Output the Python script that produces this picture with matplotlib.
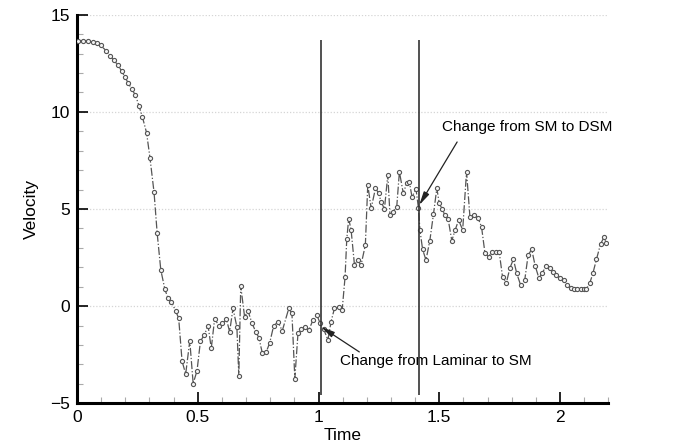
import matplotlib
matplotlib.use("Agg")
import matplotlib.pyplot as plt
from matplotlib.ticker import MultipleLocator

plt.rcParams['font.family'] = ['Liberation Sans', 'DejaVu Sans']

time = [0.005, 0.026, 0.047, 0.065, 0.081, 0.098, 0.12, 0.136, 0.153, 0.171, 0.185, 0.198,
        0.212, 0.227, 0.242, 0.257, 0.271, 0.288, 0.302, 0.319, 0.332, 0.347, 0.364, 0.377,
        0.391, 0.408, 0.421, 0.435, 0.45, 0.467, 0.481, 0.497, 0.511, 0.526, 0.543, 0.556,
        0.57, 0.588, 0.602, 0.619, 0.632, 0.646, 0.662, 0.67, 0.678, 0.694, 0.708, 0.724,
        0.74, 0.753, 0.767, 0.784, 0.798, 0.814, 0.832, 0.85, 0.877, 0.89, 0.902, 0.915,
        0.928, 0.946, 0.96, 0.977, 0.993, 1.007, 1.022, 1.039, 1.052, 1.066, 1.083, 1.098,
        1.11, 1.117, 1.125, 1.135, 1.149, 1.162, 1.176, 1.194, 1.204, 1.218, 1.236, 1.249,
        1.259, 1.273, 1.287, 1.296, 1.31, 1.324, 1.335, 1.351, 1.365, 1.376, 1.387, 1.404,
        1.414, 1.42, 1.431, 1.445, 1.461, 1.476, 1.49, 1.5, 1.512, 1.523, 1.537, 1.552,
        1.566, 1.58, 1.597, 1.613, 1.627, 1.645, 1.661, 1.675, 1.689, 1.704, 1.718, 1.734,
        1.748, 1.762, 1.778, 1.792, 1.807, 1.821, 1.837, 1.854, 1.868, 1.883, 1.897, 1.913,
        1.927, 1.943, 1.957, 1.971, 1.985, 1.999, 2.017, 2.03, 2.044, 2.058, 2.072, 2.085,
        2.099, 2.109, 2.123, 2.136, 2.151, 2.168, 2.182, 2.192]

velocity = [13.66, 13.67, 13.66, 13.6, 13.54, 13.42, 13.16, 12.89, 12.65, 12.39, 12.1, 11.82,
            11.48, 11.17, 10.86, 10.3, 9.73, 8.93, 7.65, 5.86, 3.75, 1.86, 0.86, 0.4,
            0.22, -0.24, -0.62, -2.83, -3.5, -1.79, -3.99, -3.33, -1.82, -1.5, -1.03, -2.18,
            -0.64, -1.03, -0.89, -0.69, -1.32, -0.12, -1.07, -3.6, 1.03, -0.55, -0.24, -0.86,
            -1.32, -1.62, -2.4, -2.35, -1.89, -1.03, -0.81, -1.27, -0.12, -0.38, -3.73, -1.41,
            -1.2, -1.1, -1.24, -0.72, -0.46, -0.89, -1.2, -1.75, -0.8, -0.12, -0.03, -0.2,
            1.5, 3.44, 4.5, 3.92, 2.11, 2.37, 2.11, 3.14, 6.24, 5.03, 6.07, 5.81,
            5.38, 5.0, 6.75, 4.69, 4.86, 5.12, 6.92, 5.81, 6.32, 6.41, 5.63, 6.01,
            5.03, 3.92, 2.92, 2.37, 3.37, 4.73, 6.07, 5.29, 5.0, 4.69, 4.47, 3.37,
            3.92, 4.43, 3.92, 6.92, 4.6, 4.7, 4.52, 4.09, 2.75, 2.54, 2.77, 2.8,
            2.8, 1.51, 1.2, 1.94, 2.41, 1.68, 1.08, 1.34, 2.63, 2.92, 2.08, 1.43,
            1.72, 2.06, 1.94, 1.74, 1.6, 1.46, 1.34, 1.08, 0.94, 0.86, 0.88, 0.88,
            0.88, 0.88, 1.17, 1.68, 2.41, 3.2, 3.54, 3.23]

switch_times = [1.01, 1.417]
xticks = [0, 0.5, 1, 1.5, 2]
xtick_labels = ['0', '0.5', '1', '1.5', '2']
yticks = [-5, 0, 5, 10, 15]

fig = plt.figure(figsize=(7, 4.48), dpi=100)
ax = fig.add_axes([0.11, 0.10, 0.759, 0.867])

for y in [0, 5, 10, 15]:
    ax.axhline(y, color='#d5d5d5', lw=0.9, ls=(0, (1, 1.5)), zorder=0)

ax.plot(time, velocity, color='#555555', lw=0.9, ls='-.',
        marker='o', ms=3.0, mfc='#f2f2f2', mec='#555555', mew=0.8, zorder=3)

for t in switch_times:
    ax.vlines(t, -4.6, 13.7, color='#333333', lw=1.2, zorder=4)

ax.annotate('', xy=(1.417, 5.2), xytext=(1.574, 8.45),
            arrowprops=dict(arrowstyle='-|>,head_length=0.8,head_width=0.18',
                            color='#222222', lw=0.9, shrinkA=0, shrinkB=0), zorder=5)
ax.text(1.512, 9.2, 'Change from SM to DSM', fontsize=11, va='center', ha='left')

ax.annotate('', xy=(1.011, -1.07), xytext=(1.169, -2.36),
            arrowprops=dict(arrowstyle='-|>,head_length=0.8,head_width=0.18',
                            color='#222222', lw=0.9, shrinkA=0, shrinkB=0), zorder=5)
ax.text(1.09, -2.84, 'Change from Laminar to SM', fontsize=11, va='center', ha='left')

ax.set_xlim(0, 2.2)
ax.set_ylim(-5, 15)
ax.set_xticks(xticks)
ax.set_xticklabels(xtick_labels)
ax.set_yticks(yticks)
ax.xaxis.set_minor_locator(MultipleLocator(0.1))
ax.yaxis.set_minor_locator(MultipleLocator(1))
ax.tick_params(which='major', direction='in', length=8, width=1.2, labelsize=12.5, pad=5)
ax.tick_params(which='minor', direction='in', length=4, width=0.8, color='#aaaaaa')

for s in ['top', 'right']:
    ax.spines[s].set_visible(False)
for s in ['left', 'bottom']:
    ax.spines[s].set_linewidth(2.2)

ax.set_xlabel('Time', fontsize=12.5, labelpad=2)
ax.set_ylabel('Velocity', fontsize=12.5, labelpad=8)

fig.savefig('out.png', dpi=100)
